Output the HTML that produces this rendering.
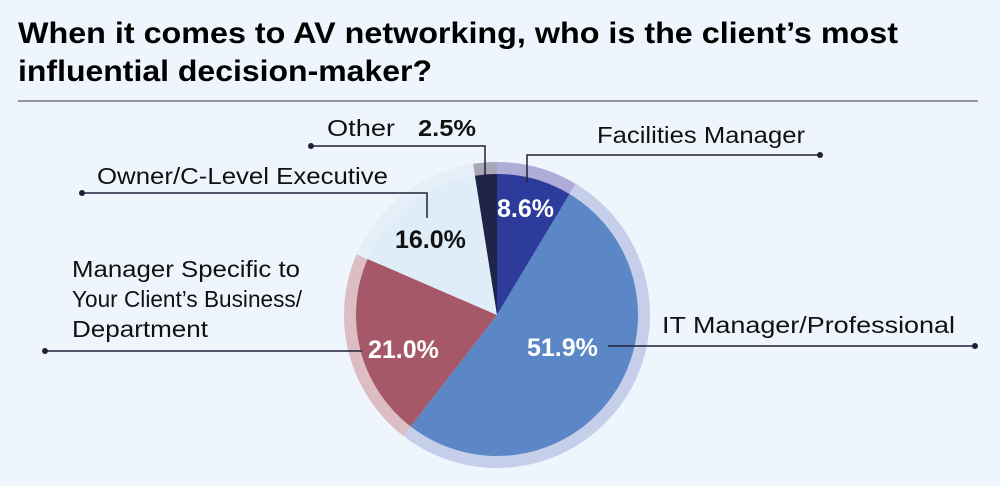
<!DOCTYPE html>
<html><head><meta charset="utf-8"><style>
html,body{margin:0;padding:0;background:#eff5fc;}
svg{display:block;font-family:"Liberation Sans",sans-serif;}
</style></head><body>
<svg id="chart" width="1000" height="486" viewBox="0 0 1000 486">
<rect width="1000" height="486" fill="#eff5fc"/>
<text x="18" y="43" font-size="30" font-weight="bold" fill="#000" textLength="880" lengthAdjust="spacingAndGlyphs">When it comes to AV networking, who is the client’s most</text>
<text x="18" y="81" font-size="30" font-weight="bold" fill="#000" textLength="414" lengthAdjust="spacingAndGlyphs">influential decision-maker?</text>
<line x1="18" y1="101" x2="978" y2="101" stroke="#777" stroke-width="1.5"/>
<g id="rings"></g>
<g id="slices"></g>
<g id="leaders" stroke="#1f2237" stroke-width="1.5" fill="none">
<polyline points="311,146 485,146 485,176"/>
<polyline points="82,193 427,193 427,218"/>
<polyline points="820,155 527,155 527,182"/>
<polyline points="608,346 975,346"/>
<polyline points="45,351 362,351"/>
</g>
<g fill="#1f2237">
<circle cx="311" cy="146" r="3"/>
<circle cx="82" cy="193" r="3"/>
<circle cx="820" cy="155" r="3"/>
<circle cx="975" cy="346" r="3"/>
<circle cx="45" cy="351" r="3"/>
</g>
<g font-size="23" fill="#111" lengthAdjust="spacingAndGlyphs">
<text x="327" y="136" textLength="68" lengthAdjust="spacingAndGlyphs">Other</text>
<text x="418" y="136" font-weight="bold" textLength="58" lengthAdjust="spacingAndGlyphs">2.5%</text>
<text x="97" y="184" textLength="291" lengthAdjust="spacingAndGlyphs">Owner/C-Level Executive</text>
<text x="597" y="143" textLength="208" lengthAdjust="spacingAndGlyphs">Facilities Manager</text>
<text x="662" y="333" textLength="293" lengthAdjust="spacingAndGlyphs">IT Manager/Professional</text>
<text x="72" y="277" textLength="228" lengthAdjust="spacingAndGlyphs">Manager Specific to</text>
<text x="72" y="307" textLength="230" lengthAdjust="spacingAndGlyphs">Your Client’s Business/</text>
<text x="72" y="337" textLength="136" lengthAdjust="spacingAndGlyphs">Department</text>
</g>
<g font-size="25" font-weight="bold">
<text x="497" y="217" fill="#fff">8.6%</text>
<text x="395" y="248" fill="#111">16.0%</text>
<text x="368" y="358" fill="#fff">21.0%</text>
<text x="527" y="356" fill="#fff">51.9%</text>
</g>
</svg>
<script>
const categories = ["Facilities Manager","IT Manager/Professional","Manager Specific","Owner/C-Level Executive","Other"];
const values = [8.6, 51.9, 21.0, 16.0, 2.5];
const sliceColors = ["#2d3c9a","#5b87c6","#a65868","#dfedf8","#202448"];
const ringColors = ["#b0acd9","#c5cfea","#dcbdc4","#e6eff8","#a9a6b8"];
const cx=497, cy=315, r=141, R=153;
const NS="http://www.w3.org/2000/svg";
function pt(rad,a){return [cx+rad*Math.sin(a), cy-rad*Math.cos(a)];}
function arc(rad,a0,a1){
  const p0=pt(rad,a0),p1=pt(rad,a1),lg=(a1-a0)>Math.PI?1:0;
  return `M${cx},${cy}L${p0[0]},${p0[1]}A${rad},${rad} 0 ${lg} 1 ${p1[0]},${p1[1]}Z`;
}
const total=values.reduce((a,b)=>a+b,0);
let a=0;
const rings=document.getElementById('rings'), slices=document.getElementById('slices');
values.forEach((v,i)=>{
  const a1=a+v/total*2*Math.PI;
  const ring=document.createElementNS(NS,'path');
  ring.setAttribute('d',arc(R,a,a1));
  ring.setAttribute('fill',ringColors[i]);
  
  
  rings.appendChild(ring);
  const s=document.createElementNS(NS,'path');
  s.setAttribute('d',arc(r,a,a1));
  s.setAttribute('fill',sliceColors[i]);
  
  
  slices.appendChild(s);
  a=a1;
});
</script>
</body></html>
